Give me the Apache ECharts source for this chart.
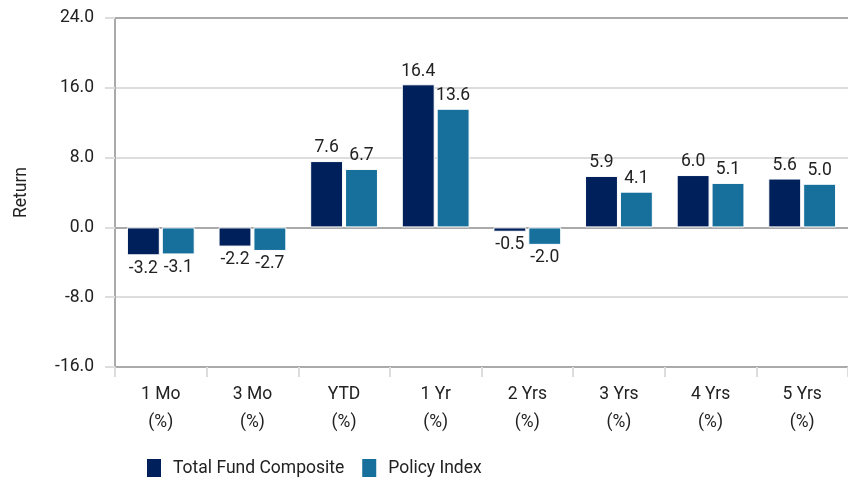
<!DOCTYPE html>
<html>
<head>
<meta charset="utf-8">
<script src="https://cdn.jsdelivr.net/npm/echarts@6/dist/echarts.min.js"></script>
<style>html,body{margin:0;padding:0;background:#fff;}#c{width:848px;height:477px;}</style>
</head>
<body>
<div id="c"></div>
<script>
var categories = ['1 Mo\n(%)', '3 Mo\n(%)', 'YTD\n(%)', '1 Yr\n(%)', '2 Yrs\n(%)', '3 Yrs\n(%)', '4 Yrs\n(%)', '5 Yrs\n(%)'];
var totalFund = [-3.2, -2.2, 7.6, 16.4, -0.5, 5.9, 6.0, 5.6];
var policyIndex = [-3.1, -2.7, 6.7, 13.6, -2.0, 4.1, 5.1, 5.0];
var seriesNames = ['Total Fund Composite', 'Policy Index'];
var yTicks = { min: -16, max: 24, interval: 8 };

var FONT = 'Roboto, sans-serif';
var FS = 17.5;
var chart = echarts.init(document.getElementById('c'), null, { renderer: 'canvas' });
var labelStyle = {
  show: true,
  fontFamily: FONT,
  fontSize: FS,
  color: '#222',
  distance: 4,
  formatter: function (p) { return p.value.toFixed(1); }
};
function mkSeries(name, data, color) {
  return {
    name: name,
    type: 'bar',
    data: data.map(function (v) {
      return { value: v, label: { position: v < 0 ? 'bottom' : 'top' } };
    }),
    barGap: '6%',
    barCategoryGap: '26%',
    itemStyle: { color: color, borderColor: '#fff', borderWidth: 1 },
    label: labelStyle
  };
}
chart.setOption({
  animation: false,
  textStyle: { fontFamily: FONT },
  grid: { left: 115, top: 18, width: 740, bottom: 110 },
  legend: {
    top: 452,
    left: 140,
    itemWidth: 16,
    itemHeight: 21,
    itemGap: 16,
    icon: 'rect',
    textStyle: { fontFamily: FONT, fontSize: FS, color: '#222', padding: [0, 0, 0, 6] },
    data: seriesNames
  },
  xAxis: {
    type: 'category',
    data: categories,
    axisLine: { onZero: false, lineStyle: { color: '#aaa', width: 2 } },
    axisTick: { show: true, length: 10, lineStyle: { color: '#ddd', width: 2 } },
    axisLabel: { fontFamily: FONT, fontSize: FS, color: '#222', lineHeight: 28, margin: 14 }
  },
  yAxis: {
    type: 'value',
    min: yTicks.min,
    max: yTicks.max,
    interval: yTicks.interval,
    name: 'Return',
    nameLocation: 'middle',
    nameGap: 84,
    nameRotate: 90,
    nameTextStyle: { fontFamily: FONT, fontSize: FS, color: '#222' },
    axisLine: { show: true, lineStyle: { color: '#aaa', width: 2 } },
    axisTick: { show: true, length: 10, lineStyle: { color: '#ddd', width: 2 } },
    axisLabel: { fontFamily: FONT, fontSize: FS, color: '#222', margin: 21, formatter: function (v) { return v.toFixed(1); } },
    splitLine: { show: true, lineStyle: { color: ['#aaa', '#ddd', '#aaa', '#ddd', '#ddd', '#aaa'], width: 2 } }
  },
  series: [
    mkSeries(seriesNames[0], totalFund, '#00205b'),
    mkSeries(seriesNames[1], policyIndex, '#17709c')
  ]
});
</script>
</body>
</html>
